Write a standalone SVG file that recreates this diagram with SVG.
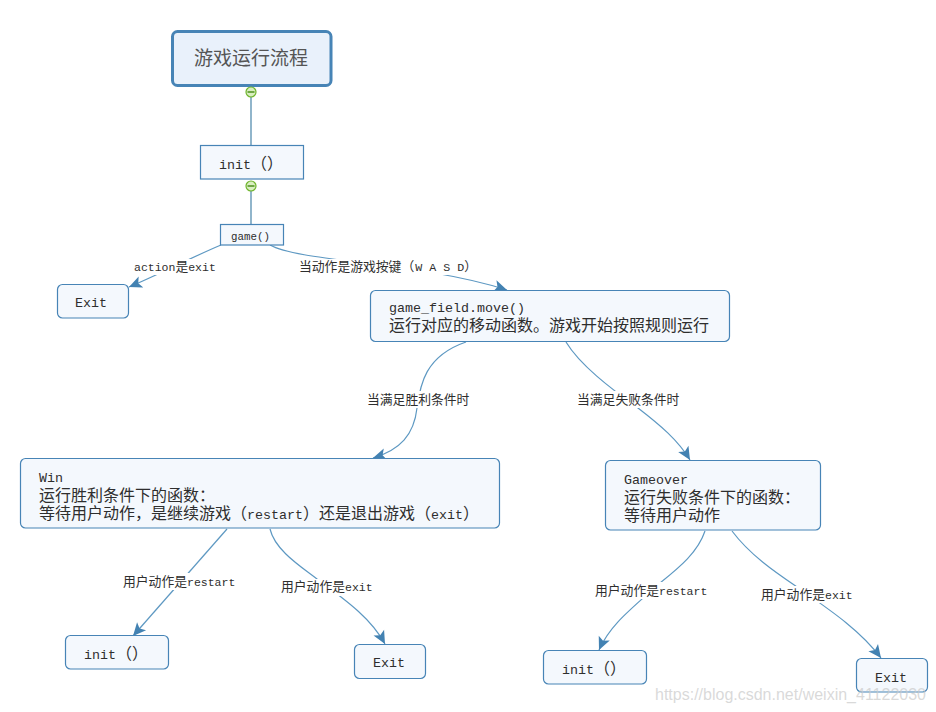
<svg xmlns="http://www.w3.org/2000/svg" width="936" height="712" viewBox="0 0 936 712">
<style>
text{font-family:"Liberation Mono","Noto Sans CJK SC",monospace;fill:#2e2e2e}
.n{fill:#f4f8fd;stroke:#4784b6;stroke-width:1.2}
.t{font-size:16px}
.m{font-size:13.33px}
.l{font-size:12.8px}
.l2{font-size:11.5px}
.g2{font-size:10.8px}
.c{fill:none;stroke:#5d98c2;stroke-width:1.2}
.v{fill:none;stroke:#4784a8;stroke-width:1.2}
.g{fill:#fff}
.b{fill:#d8eec0;stroke:#6fb52c;stroke-width:1.2}
</style>
<defs>
<marker id="a" markerUnits="userSpaceOnUse" markerWidth="16" markerHeight="14" refX="13" refY="6" orient="auto" overflow="visible">
<path d="M0,0 L13,6 L0,12 L3,6 Z" fill="#4382b2"/>
</marker>
</defs>
<g id="connectors">
<path class="v" d="M251,92 V145"/>
<path class="v" d="M251,186 V224"/>
<path class="c" marker-end="url(#a)" d="M221,245 C190,258 160,274 129,287"/>
<path class="c" marker-end="url(#a)" d="M270,245 C300,262 420,262 507,290"/>
<path class="c" marker-end="url(#a)" d="M466,342 C425,356 420,385 417,408 C414,435 400,450 373,458"/>
<path class="c" marker-end="url(#a)" d="M566,342 C580,365 610,388 638,408 C660,425 678,440 690,460"/>
<path class="c" marker-end="url(#a)" d="M227,529 L133,636"/>
<path class="c" marker-end="url(#a)" d="M270,529 C275,550 300,566 317,579 C350,603 372,620 385,644"/>
<path class="c" marker-end="url(#a)" d="M705,531 C698,552 680,567 660,583 C630,610 610,625 599,650"/>
<path class="c" marker-end="url(#a)" d="M732,531 C750,555 775,572 797,587 C830,610 860,630 881,658"/>
</g>
<g id="labels">
<rect class="g" x="134" y="259" width="82" height="16"/>
<text class="l" x="134" y="271"><tspan class="l2">action</tspan>是<tspan class="l2">exit</tspan></text>
<rect class="g" x="298" y="259" width="176" height="16"/>
<text class="l" x="299" y="271">当动作是游戏按键（<tspan class="l2" dx="1" style="font-size:11.67px">W A S D</tspan>）</text>
<rect class="g" x="366" y="391" width="105" height="17"/>
<text class="l" x="367" y="404">当满足胜利条件时</text>
<rect class="g" x="576" y="391" width="105" height="17"/>
<text class="l" x="577" y="404">当满足失败条件时</text>
<rect class="g" x="122" y="573" width="115" height="17"/>
<text class="l" x="123" y="586">用户动作是<tspan class="l2">restart</tspan></text>
<rect class="g" x="280" y="579" width="93" height="17"/>
<text class="l" x="281" y="591">用户动作是<tspan class="l2">exit</tspan></text>
<rect class="g" x="594" y="582" width="115" height="17"/>
<text class="l" x="595" y="595">用户动作是<tspan class="l2">restart</tspan></text>
<rect class="g" x="760" y="586" width="93" height="17"/>
<text class="l" x="761" y="599">用户动作是<tspan class="l2">exit</tspan></text>
</g>
<g id="title">
<rect x="172.500" y="31.500" width="158.500" height="54" rx="5" fill="#e9f1fb" stroke="#4784b6" stroke-width="3"/>
<text x="194" y="65" font-size="19" style="fill:#555">游戏运行流程</text>
</g>
<g id="toggle1"><circle class="b" cx="251" cy="92" r="5"/><path d="M247.500,92 H254.500" stroke="#4d8f1c" stroke-width="1.500"/></g>
<g id="init-top">
<rect class="n" x="200.500" y="145.500" width="103" height="33.500"/>
<text class="t" x="219" y="169"><tspan class="m">init</tspan>（）</text>
</g>
<g id="toggle2"><circle class="b" cx="251" cy="186" r="5"/><path d="M247.500,186 H254.500" stroke="#4d8f1c" stroke-width="1.500"/></g>
<g id="game">
<rect class="n" x="220.500" y="224.500" width="63" height="20.500"/>
<text class="g2" x="231" y="240">game()</text>
</g>
<g id="exit-a">
<rect class="n" x="57.500" y="284.500" width="71" height="33.500" rx="5"/>
<text class="m" x="75" y="307">Exit</text>
</g>
<g id="move">
<rect class="n" x="370.500" y="290.500" width="359" height="51" rx="5"/>
<text class="m" x="389" y="312">game_field.move()</text>
<text class="t" x="389" y="331">运行对应的移动函数。游戏开始按照规则运行</text>
</g>
<g id="win">
<rect class="n" x="20.500" y="458.500" width="479" height="69.500" rx="5"/>
<text class="m" x="39" y="482">Win</text>
<text class="t" x="39" y="501">运行胜利条件下的函数：</text>
<text class="t" x="39" y="519">等待用户动作，是继续游戏（<tspan class="m">restart</tspan>）还是退出游戏（<tspan class="m">exit</tspan>）</text>
</g>
<g id="gameover">
<rect class="n" x="605.500" y="460.500" width="215" height="69.500" rx="5"/>
<text class="m" x="624" y="484">Gameover</text>
<text class="t" x="624" y="503">运行失败条件下的函数：</text>
<text class="t" x="624" y="521">等待用户动作</text>
</g>
<g id="init-l">
<rect class="n" x="65.500" y="635.500" width="103" height="33.500" rx="5"/>
<text class="t" x="84" y="659"><tspan class="m">init</tspan>（）</text>
</g>
<g id="exit-l">
<rect class="n" x="354.500" y="644.500" width="71" height="34" rx="5"/>
<text class="m" x="373" y="667">Exit</text>
</g>
<g id="init-r">
<rect class="n" x="543.500" y="650.500" width="103" height="33.500" rx="5"/>
<text class="t" x="562" y="674"><tspan class="m">init</tspan>（）</text>
</g>
<g id="exit-r">
<rect class="n" x="856.500" y="658.500" width="71" height="33.500" rx="5"/>
<text class="m" x="875" y="682">Exit</text>
</g>
<text id="watermark" x="655" y="700" font-size="16" style="font-family:'Liberation Sans',sans-serif;fill:#c9c9c9;fill-opacity:.7">https://blog.csdn.net/weixin_41122030</text>
</svg>
